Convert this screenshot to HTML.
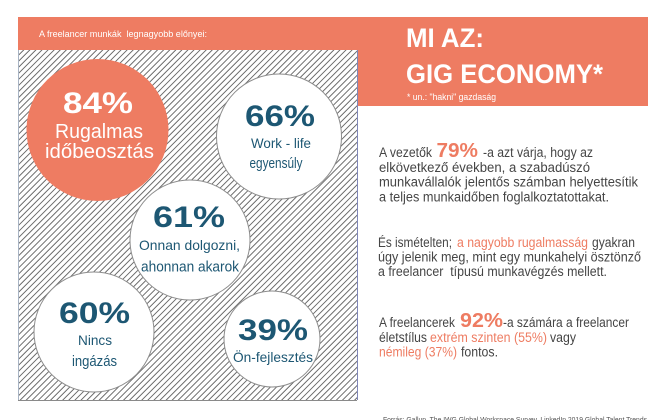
<!DOCTYPE html>
<html>
<head>
<meta charset="utf-8">
<style>
html,body{margin:0;padding:0;background:#fff;}
svg{display:block;}
text{font-family:"Liberation Sans",sans-serif;white-space:pre;}
</style>
</head>
<body>
<svg width="660" height="420" viewBox="0 0 660 420" xmlns="http://www.w3.org/2000/svg">
<defs>
<pattern id="hatch" width="4.3" height="4.3" patternUnits="userSpaceOnUse" patternTransform="rotate(45)">
<line x1="0.5" y1="0" x2="0.5" y2="4.3" stroke="#4a4a4a" stroke-width="0.8"/>
</pattern>
</defs>
<rect width="660" height="420" fill="#fff"/>
<!-- hatched area -->
<rect x="18" y="50" width="339" height="350" fill="url(#hatch)"/>
<line x1="18.5" y1="50" x2="18.5" y2="400" stroke="#a8b4c4" stroke-width="1"/>
<line x1="18" y1="400.5" x2="357" y2="400.5" stroke="#8a8a8a" stroke-width="1"/>
<line x1="357.5" y1="50" x2="357.5" y2="400" stroke="#7f86b8" stroke-width="1"/>
<!-- orange banners -->
<rect x="18" y="17" width="630" height="33" fill="#ee7c62"/>
<rect x="358" y="17" width="290" height="89" fill="#ee7c62"/>
<text x="39" y="37" font-size="9" fill="#fff" textLength="168" lengthAdjust="spacingAndGlyphs">A freelancer munkák  legnagyobb előnyei:</text>

<!-- circles -->
<circle cx="97.5" cy="130" r="71" fill="#ee7c62"/>
<circle cx="279" cy="136.5" r="62.5" fill="#fff" stroke="#8c8c8c" stroke-width="1"/>
<circle cx="190" cy="240" r="60" fill="#fff" stroke="#8c8c8c" stroke-width="1"/>
<circle cx="94" cy="332" r="60" fill="#fff" stroke="#8c8c8c" stroke-width="1"/>
<circle cx="272" cy="339" r="48" fill="#fff" stroke="#8c8c8c" stroke-width="1"/>

<g text-anchor="middle">
<text x="98" y="113" font-size="30" font-weight="bold" fill="#fff" textLength="70" lengthAdjust="spacingAndGlyphs">84%</text>
<text x="99" y="138" font-size="20" fill="#fff" textLength="88" lengthAdjust="spacingAndGlyphs">Rugalmas</text>
<text x="99.5" y="158" font-size="20" fill="#fff" textLength="109" lengthAdjust="spacingAndGlyphs">időbeosztás</text>

<text x="280" y="126" font-size="30" font-weight="bold" fill="#1d5773" textLength="70" lengthAdjust="spacingAndGlyphs">66%</text>
<text x="281" y="148" font-size="14" fill="#1d5773" textLength="60" lengthAdjust="spacingAndGlyphs">Work - life</text>
<text x="276" y="168" font-size="15" fill="#1d5773" textLength="53" lengthAdjust="spacingAndGlyphs">egyensúly</text>

<text x="189" y="227" font-size="30" font-weight="bold" fill="#1d5773" textLength="72" lengthAdjust="spacingAndGlyphs">61%</text>
<text x="189.5" y="250" font-size="14" fill="#1d5773" textLength="101" lengthAdjust="spacingAndGlyphs">Onnan dolgozni,</text>
<text x="190" y="271.5" font-size="14.5" fill="#1d5773" textLength="98" lengthAdjust="spacingAndGlyphs">ahonnan akarok</text>

<text x="94.5" y="323" font-size="30" font-weight="bold" fill="#1d5773" textLength="71" lengthAdjust="spacingAndGlyphs">60%</text>
<text x="95" y="345" font-size="14" fill="#1d5773" textLength="34" lengthAdjust="spacingAndGlyphs">Nincs</text>
<text x="94.5" y="366" font-size="14.5" fill="#1d5773" textLength="45" lengthAdjust="spacingAndGlyphs">ingázás</text>

<text x="273" y="340" font-size="30" font-weight="bold" fill="#1d5773" textLength="70" lengthAdjust="spacingAndGlyphs">39%</text>
<text x="273" y="362" font-size="14" fill="#1d5773" textLength="80" lengthAdjust="spacingAndGlyphs">Ön-fejlesztés</text>
</g>

<!-- title -->
<text x="406" y="47" font-size="27" font-weight="bold" fill="#fff" textLength="78" lengthAdjust="spacingAndGlyphs">MI AZ:</text>
<text x="406" y="83" font-size="27" font-weight="bold" fill="#fff" textLength="197" lengthAdjust="spacingAndGlyphs">GIG ECONOMY*</text>
<text x="407" y="100" font-size="9" fill="#fff" textLength="89" lengthAdjust="spacingAndGlyphs">* un.: "hakni" gazdaság</text>

<!-- paragraph 1 -->
<g font-size="13.5" fill="#454545">
<text x="379" y="157" textLength="53" lengthAdjust="spacingAndGlyphs">A vezetők</text>
<text x="436.5" y="157" font-size="20" font-weight="bold" fill="#ee7c62" textLength="41.5" lengthAdjust="spacingAndGlyphs">79%</text>
<text x="483" y="157" textLength="110" lengthAdjust="spacingAndGlyphs">-a azt várja, hogy az</text>
<text x="379" y="172" textLength="211" lengthAdjust="spacingAndGlyphs">elkövetkező években, a szabadúszó</text>
<text x="379" y="186.5" textLength="259" lengthAdjust="spacingAndGlyphs">munkavállalók jelentős számban helyettesítik</text>
<text x="379" y="201.5" textLength="230" lengthAdjust="spacingAndGlyphs">a teljes munkaidőben foglalkoztatottakat.</text>

<!-- paragraph 2 -->
<text x="378" y="247" textLength="74" lengthAdjust="spacingAndGlyphs">És ismételten;</text>
<text x="457" y="247" fill="#ee7c62" textLength="131" lengthAdjust="spacingAndGlyphs">a nagyobb rugalmasság</text>
<text x="592" y="247" textLength="43" lengthAdjust="spacingAndGlyphs">gyakran</text>
<text x="378" y="261.5" textLength="263" lengthAdjust="spacingAndGlyphs">úgy jelenik meg, mint egy munkahelyi ösztönző</text>
<text x="378" y="276" textLength="229" lengthAdjust="spacingAndGlyphs">a freelancer  típusú munkavégzés mellett.</text>

<!-- paragraph 3 -->
<text x="379" y="327" textLength="76" lengthAdjust="spacingAndGlyphs">A freelancerek</text>
<text x="460" y="327" font-size="20" font-weight="bold" fill="#ee7c62" textLength="43" lengthAdjust="spacingAndGlyphs">92%</text>
<text x="503" y="327" textLength="126" lengthAdjust="spacingAndGlyphs">-a számára a freelancer</text>
<text x="379" y="342" textLength="48" lengthAdjust="spacingAndGlyphs">életstílus</text>
<text x="430" y="342" fill="#ee7c62" textLength="117" lengthAdjust="spacingAndGlyphs">extrém szinten (55%)</text>
<text x="550" y="342" textLength="26" lengthAdjust="spacingAndGlyphs">vagy</text>
<text x="379" y="356.5" fill="#ee7c62" textLength="78" lengthAdjust="spacingAndGlyphs">némileg (37%)</text>
<text x="461" y="356.5" textLength="37" lengthAdjust="spacingAndGlyphs">fontos.</text>
</g>

<!-- footer -->
<text x="383" y="422" font-size="7.5" fill="#555" textLength="264" lengthAdjust="spacingAndGlyphs">Forrás: Gallup, The IWG Global Workspace Survey, LinkedIn 2019 Global Talent Trends</text>
</svg>
</body>
</html>
